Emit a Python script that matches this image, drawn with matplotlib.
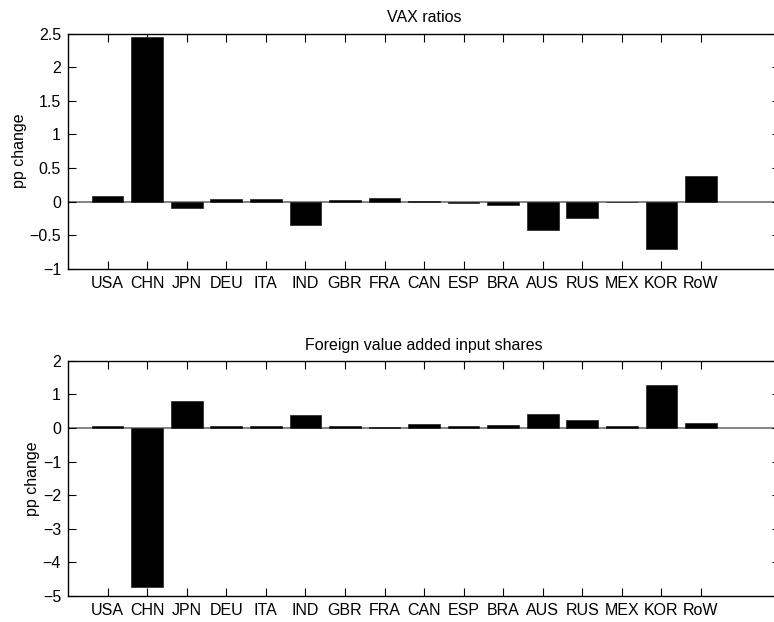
import matplotlib
matplotlib.use("Agg")
import matplotlib.pyplot as plt
import numpy as np

plt.rcParams['font.family'] = ['Liberation Sans', 'DejaVu Sans']
plt.rcParams['font.size'] = 11.5

countries = ['USA', 'CHN', 'JPN', 'DEU', 'ITA', 'IND', 'GBR', 'FRA',
             'CAN', 'ESP', 'BRA', 'AUS', 'RUS', 'MEX', 'KOR', 'RoW']

# change in VAX ratios, pp
vax_change = [0.08, 2.45, -0.10, 0.035, 0.035, -0.35, 0.02, 0.055,
              0.005, -0.02, -0.045, -0.43, -0.24, -0.005, -0.70, 0.38]

# change in foreign value added input shares, pp
fva_change = [0.06, -4.75, 0.80, 0.07, 0.05, 0.38, 0.07, 0.04,
              0.12, 0.07, 0.09, 0.43, 0.24, 0.07, 1.27, 0.14]

fig = plt.figure(figsize=(7.74, 6.22), dpi=100)
ax1 = fig.add_axes([0.0879, 0.568, 0.92, 0.378])
ax2 = fig.add_axes([0.0879, 0.0423, 0.92, 0.3775])

x = np.arange(1, len(countries) + 1)

panels = [
    (ax1, vax_change, 'VAX ratios', (-1, 2.5), np.arange(-1, 2.51, 0.5)),
    (ax2, fva_change, 'Foreign value added input shares', (-5, 2), np.arange(-5, 2.1, 1)),
]

for ax, vals, title, ylim, yticks in panels:
    ax.bar(x, vals, width=0.8, color='black', edgecolor='#202020', linewidth=0.5, zorder=2)
    ax.axhline(0, color='#707070', linewidth=1.2, zorder=1)
    ax.set_xlim(0, 18)
    ax.set_ylim(*ylim)
    ax.set_xticks(x)
    ax.set_xticklabels(countries)
    ax.set_yticks(yticks)
    ax.set_yticklabels([f'{t:g}'.replace('-', '\u2212') for t in yticks])
    ax.tick_params(direction='in', top=True, right=True, length=6, width=0.8, pad=5, labelsize=11.5)
    for s in ax.spines.values():
        s.set_linewidth(1.0)
    ax.set_title(title, fontsize=11.5, pad=8)
    ax.set_ylabel('pp change', fontsize=11.5, labelpad=2)

fig.savefig('out.png', dpi=100)
